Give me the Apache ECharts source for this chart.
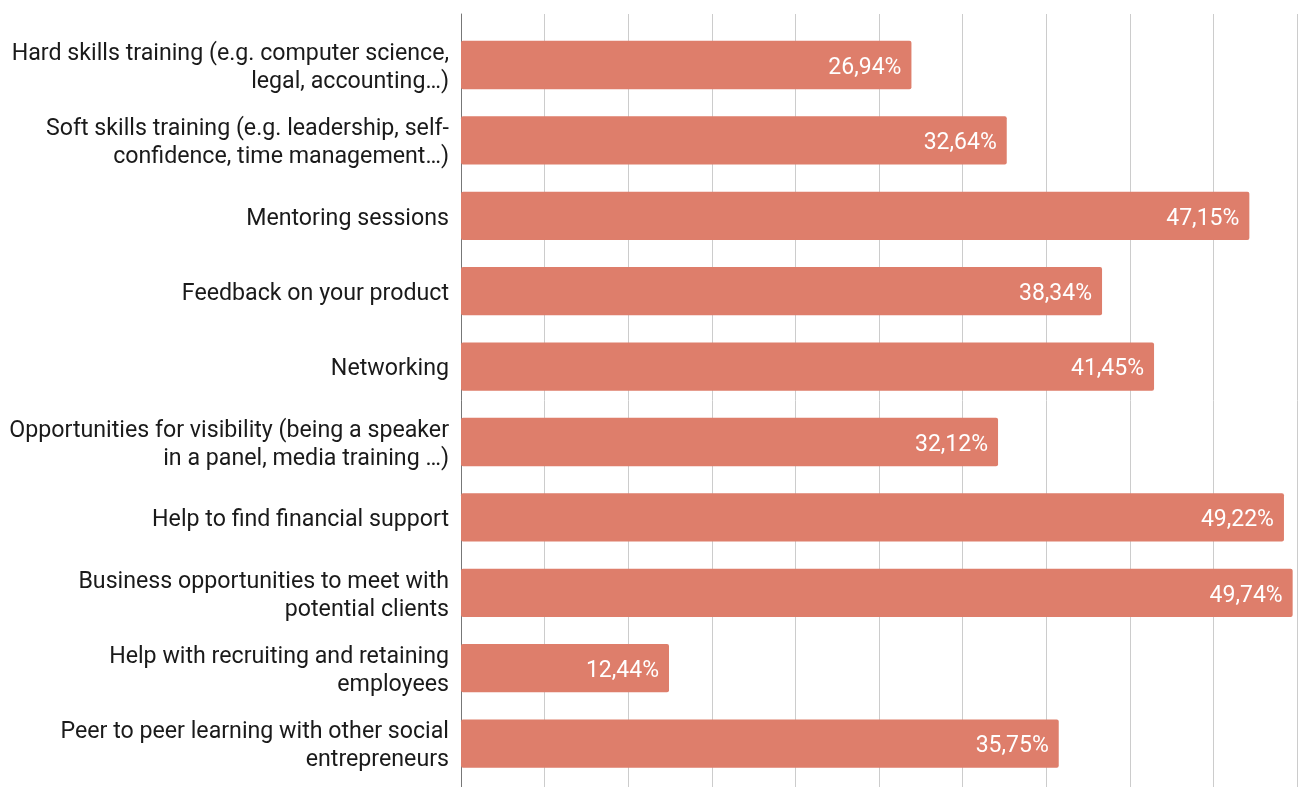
<!DOCTYPE html>
<html>
<head>
<meta charset="utf-8">
<script src="https://cdn.jsdelivr.net/npm/echarts@6/dist/echarts.min.js"></script>
<style>
  html, body { margin: 0; padding: 0; background: #ffffff; }
  #chart { width: 1301px; height: 787px; }
</style>
</head>
<body>
<div id="chart"></div>
<script>
// Support types requested by respondents (share of answers, %)
const categories = [
  'Hard skills training (e.g. computer science,\nlegal, accounting…)',
  'Soft skills training (e.g. leadership, self-\nconfidence, time management…)',
  'Mentoring sessions',
  'Feedback on your product',
  'Networking',
  'Opportunities for visibility (being a speaker\nin a panel, media training …)',
  'Help to find financial support',
  'Business opportunities to meet with\npotential clients',
  'Help with recruiting and retaining\nemployees',
  'Peer to peer learning with other social\nentrepreneurs'
];
const values = [26.94, 32.64, 47.15, 38.34, 41.45, 32.12, 49.22, 49.74, 12.44, 35.75];

const axisMin = 0;
const axisMax = 50;
const axisStep = 5;

const FONT = 'Roboto, "Noto Sans", sans-serif';
const chart = echarts.init(document.getElementById('chart'), null, { renderer: 'canvas' });

const fmt = v => v.toFixed(2).replace('.', ',') + '%';

const hiddenValueAxis = gridIndex => ({
  gridIndex, type: 'value', min: axisMin, max: axisMax, interval: axisStep,
  axisLabel: { show: false }, axisTick: { show: false }, axisLine: { show: false },
  splitLine: { show: false }
});

chart.setOption({
  animation: false,
  backgroundColor: '#ffffff',
  grid: [
    // full-height frame carrying the vertical gridlines
    { left: 461, right: 4, top: 14, bottom: -2, containLabel: false },
    // bar area
    { left: 461, right: 4, top: 27.3, bottom: 5.7, containLabel: false },
    // category labels, set a touch lower so the caps sit on the bar centres
    { left: 461, right: 4, top: 30.3, bottom: 2.7, containLabel: false }
  ],
  xAxis: [
    {
      gridIndex: 0, type: 'value', min: axisMin, max: axisMax, interval: axisStep,
      axisLabel: { show: false }, axisTick: { show: false }, axisLine: { show: false },
      splitLine: { show: true, lineStyle: { color: '#cccccc', width: 1 } }
    },
    hiddenValueAxis(1),
    hiddenValueAxis(2)
  ],
  yAxis: [
    {
      gridIndex: 0, type: 'category', data: [''],
      axisLabel: { show: false }, axisTick: { show: false },
      axisLine: { show: true, lineStyle: { color: '#777777', width: 1 } }
    },
    {
      gridIndex: 1, type: 'category', data: categories, inverse: true,
      axisTick: { show: false }, axisLine: { show: false }, axisLabel: { show: false }
    },
    {
      gridIndex: 2, type: 'category', data: categories, inverse: true,
      axisTick: { show: false }, axisLine: { show: false },
      axisLabel: {
        margin: 12, color: '#1a1a1a', fontFamily: FONT, fontSize: 23.2, lineHeight: 28,
        align: 'right'
      }
    }
  ],
  series: [
    {
      type: 'bar', xAxisIndex: 1, yAxisIndex: 1, data: values,
      barCategoryGap: '36%',
      itemStyle: { color: '#de7e6b', borderRadius: 2 },
      label: {
        show: true, position: 'insideRight', distance: 10, offset: [0, 3],
        color: '#ffffff', fontFamily: FONT, fontSize: 23,
        formatter: p => fmt(p.value)
      }
    }
  ]
});
</script>
</body>
</html>
